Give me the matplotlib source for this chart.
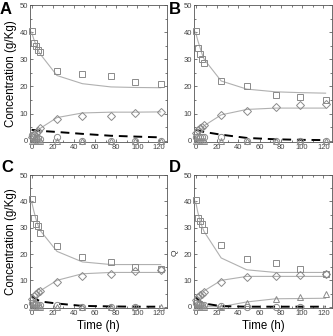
import matplotlib
matplotlib.use('Agg')
import matplotlib.pyplot as plt
from matplotlib.ticker import MultipleLocator

plt.rcParams['font.family'] = ['Liberation Sans', 'DejaVu Sans']

# sampling times (h)
t = [0, 2, 4, 6, 8, 24, 48, 75, 98, 122]
# model curve times
tm = [0, 2, 4, 6, 8, 24, 48, 75, 98, 122]

# ---------------- panel A ----------------
sqA = [40.5, 36, 35, 33.5, 32.5, 25.5, 24.5, 24, 21.5, 21]
diA = [1.5, 2.5, 3, 3.5, 4.5, 7.8, 9, 9.2, 10.3, 10.7]
ciA = [2, 1.5, 1, 0.8, 0.5, 1.3, 0, 0, 0, 0]
trA = [0, 0, 0, 0, 0, 0, 0, 0, 0, 0]
fsA = [40, 37.5, 35.5, 33.5, 32, 24, 21, 19.8, 19.6, 19.5]
fdA = [0, 1.2, 2.5, 3.5, 4.5, 8.5, 10.2, 10.5, 10.5, 10.6]
dashA = [4, 3.9, 3.8, 3.7, 3.6, 3.2, 2.5, 1.8, 1.5, 1.2]

# ---------------- panel B ----------------
sqB = [40.5, 34, 32, 30, 28.5, 22, 20, 17, 16, 15]
diB = [3, 4, 4.5, 5, 5.8, 9.5, 11, 12.5, 13, 13.5]
ciB = [1.5, 1.5, 1.5, 1.2, 1.5, 1.2, 0, 0, 0, 0]
trB = [0, 0, 0, 0, 0, 0, 0, 0, 0, 0]
fsB = [40, 37, 34.5, 32, 30, 22, 19, 18, 17.7, 17.5]
fdB = [0, 1.5, 3, 4.3, 5.5, 9.5, 11.5, 12, 12, 12]
dashB = [4, 3.8, 3.6, 3.4, 3.2, 2.2, 1, 0.5, 0.3, 0.2]

# ---------------- panel C ----------------
sqC = [41, 33.5, 31.5, 30.5, 28, 23.2, 19, 17, 15, 14.2]
diC = [3, 4, 5, 5.5, 6, 9.5, 11.5, 12.5, 13.5, 14]
ciC = [1.5, 1.2, 1, 0.8, 0.5, 0.5, 0, 0, 0, 14.3]
trC = [0, 0, 0, 0, 0, 0, 0, 0, 0, 0]
fsC = [40, 36.5, 33.5, 31, 29, 21, 17, 16, 16, 16]
fdC = [0, 1.5, 3, 4.5, 6, 10, 12.5, 13, 13, 13]
dashC = [4, 3.5, 3, 2.5, 2, 1.2, 0.3, 0.1, 0, 0]

# ---------------- panel D ----------------
sqD = [40.5, 33.5, 32.5, 31.5, 29, 23.3, 18, 16.5, 14.3, 12.5]
diD = [2.5, 3.5, 4.5, 5, 5.5, 9.2, 11.2, 11.5, 12, 12.5]
ciD = [1.5, 1.2, 1, 0.8, 0.5, 0.3, 0, 0, 0, 12.3]
trD = [0, 0, 0, 0, 0, 0, 1.5, 2.8, 3.8, 5]
fsD = [40, 36, 33, 30.5, 28.5, 18.5, 14, 13, 13, 13]
fdD = [0, 1.8, 3.3, 4.8, 6, 10, 11.5, 11.5, 11.5, 11.5]
ftD = [0, 0, 0, 0, 0, 0, 1.8, 3, 3.1, 3.2]
dashD = [3.5, 2.8, 2.2, 1.6, 1.2, 0.2, 0, 0, 0, 0]

gray = '#8a8a8a'
mk = dict(linestyle='none', markerfacecolor='none', markeredgecolor=gray,
          markeredgewidth=0.7, markersize=4.5, clip_on=False, zorder=3)

fig = plt.figure(figsize=(3.33, 3.36), dpi=100)
W, H = 333, 336
boxes = {
    'A': (30, 5, 167, 142),
    'B': (194, 5, 332, 142),
    'C': (30, 175, 167, 308),
    'D': (194, 175, 332, 308),
}
letter_pos = {'A': (0, 10), 'B': (169, 10), 'C': (1, 167), 'D': (169, 168)}
panels = {
    'A': (sqA, diA, ciA, trA, fsA, fdA, None, dashA),
    'B': (sqB, diB, ciB, trB, fsB, fdB, None, dashB),
    'C': (sqC, diC, ciC, trC, fsC, fdC, None, dashC),
    'D': (sqD, diD, ciD, trD, fsD, fdD, ftD, dashD),
}

for key, (x0, y0, x1, y1) in boxes.items():
    ax = fig.add_axes([x0 / W, 1 - y1 / H, (x1 - x0) / W, (y1 - y0) / H])
    sq, di, ci, tr, fs, fd, ft, dash = panels[key]
    ax.plot(tm, fs, color='#b0b0b0', lw=0.8)
    ax.plot(tm, fd, color='#b0b0b0', lw=0.8)
    if ft is not None:
        ax.plot(tm, ft, color='#b0b0b0', lw=0.8)
    ax.plot(tm, dash, color='black', lw=1.4, ls=(0, (4.5, 3)))
    ax.plot(t, sq, marker='s', **mk)
    ax.plot(t, di, marker='D', **dict(mk, markersize=4.2))
    ax.plot(t, ci, marker='o', **mk)
    ax.plot(t, tr, marker='^', **mk)
    ax.set_xlim(-1.5, 128)
    ax.set_ylim(-0.5, 50)
    ax.xaxis.set_major_locator(MultipleLocator(20))
    ax.yaxis.set_major_locator(MultipleLocator(10))
    ax.xaxis.set_minor_locator(MultipleLocator(10))
    ax.yaxis.set_minor_locator(MultipleLocator(5))
    ax.tick_params(which='both', direction='in', top=True, right=True,
                   labelsize=5.5, colors='#444444', width=0.5, pad=1.5)
    ax.tick_params(which='major', length=2.5)
    ax.tick_params(which='minor', length=1.5)
    for s in ax.spines.values():
        s.set_linewidth(0.6)
        s.set_color('#555555')
    if key in ('A', 'C'):
        ax.set_ylabel('Concentration (g/Kg)', fontsize=8.3, labelpad=2)
    if key in ('C', 'D'):
        ax.set_xlabel('Time (h)', fontsize=8.3, labelpad=2)
    lx, ly = letter_pos[key]
    fig.text(lx / W, 1 - ly / H, key, fontsize=12,
             fontweight='bold', ha='left', va='center')

fig.text(175 / W, 1 - 253 / H, 'Q', fontsize=6, rotation=90,
         ha='center', va='center', color='#333333')

fig.savefig('out.png', dpi=100)
